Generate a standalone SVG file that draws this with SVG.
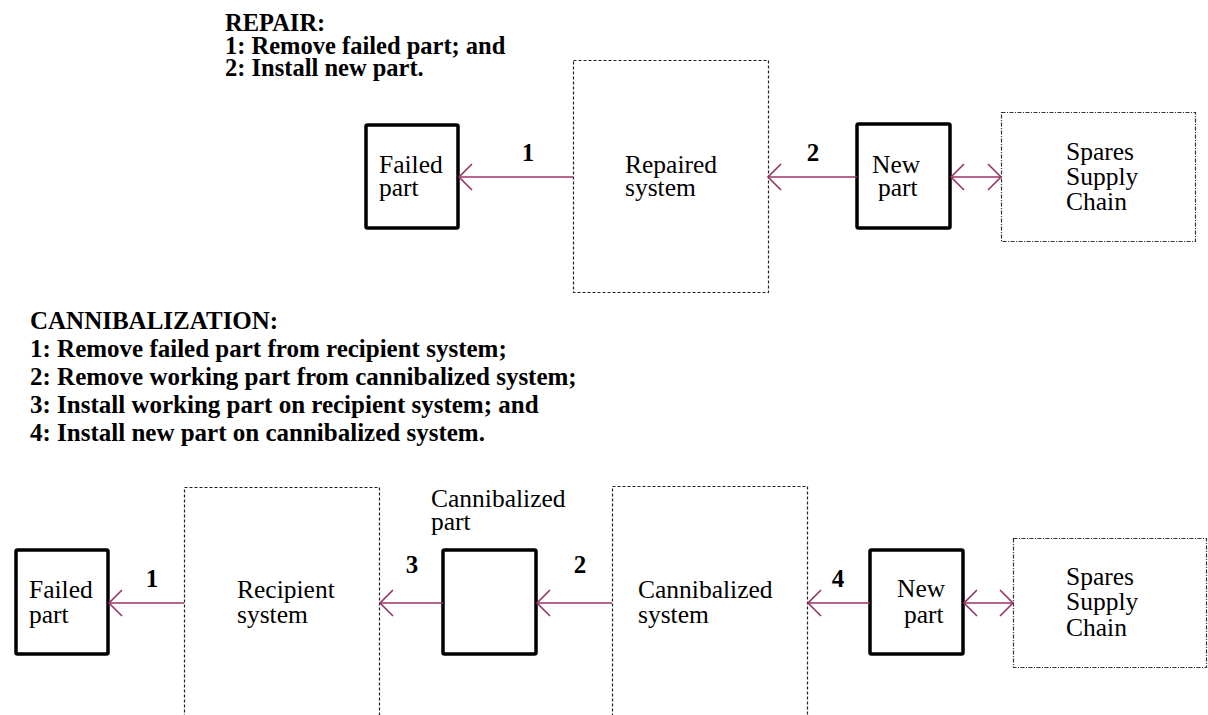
<svg xmlns="http://www.w3.org/2000/svg" width="1208" height="715" viewBox="0 0 1208 715">
<style>
text{font-family:"Liberation Serif","Times New Roman",serif;fill:#000}
.h{font-weight:bold;font-size:24.5px}
.hc{font-weight:bold;font-size:25px}
.t{font-size:25.5px}
.n{font-weight:bold;font-size:25px;text-anchor:middle}
.solid{fill:#fff;stroke:#000;stroke-width:3.5}
.dash{fill:#fff;stroke:#222;stroke-width:1.2;stroke-dasharray:3 2}
.dd{fill:#fff;stroke:#333;stroke-width:1.2;stroke-dasharray:4 1.5 1 1.5}
.c{stroke:#993366;stroke-width:1.6;fill:none}
</style>
<defs>
<marker id="ah" viewBox="-14 -14 16 28" markerWidth="16" markerHeight="28" refX="0" refY="0" orient="auto" markerUnits="userSpaceOnUse">
<path d="M-13,-13 L0,0 L-13,13" fill="none" stroke="#993366" stroke-width="1.6"/>
</marker>
<marker id="as" viewBox="-2 -14 16 28" markerWidth="16" markerHeight="28" refX="0" refY="0" orient="auto" markerUnits="userSpaceOnUse">
<path d="M13,-13 L0,0 L13,13" fill="none" stroke="#993366" stroke-width="1.6"/>
</marker>
</defs>

<g id="repair-heading">
<text class="h" x="225" y="31">REPAIR:<tspan x="225" y="53.5">1: Remove failed part; and</tspan><tspan x="225" y="76">2: Install new part.</tspan></text>
</g>

<g id="r-failed">
<rect class="solid" x="366" y="125" width="92" height="103" rx="1.5"/>
<text class="t" x="379" y="173">Failed<tspan x="379" y="196">part</tspan></text>
</g>
<g id="r-system">
<rect class="dash" x="573.5" y="60.5" width="195" height="232"/>
<text class="t" x="625" y="173">Repaired<tspan x="625" y="196">system</tspan></text>
</g>
<g id="r-new">
<rect class="solid" x="857" y="124" width="93" height="104" rx="1.5"/>
<text class="t" x="872" y="173">New<tspan x="878" y="196">part</tspan></text>
</g>
<g id="r-spares">
<rect class="dd" x="1001.5" y="112.5" width="194" height="129"/>
<text class="t" x="1066" y="160">Spares<tspan x="1066" y="185">Supply</tspan><tspan x="1066" y="210">Chain</tspan></text>
</g>

<g id="cann-heading">
<text class="hc" x="30" y="329">CANNIBALIZATION:<tspan x="30" y="357">1: Remove failed part from recipient system;</tspan><tspan x="30" y="385">2: Remove working part from cannibalized system;</tspan><tspan x="30" y="413">3: Install working part on recipient system; and</tspan><tspan x="30" y="441">4: Install new part on cannibalized system.</tspan></text>
</g>

<g id="c-failed">
<rect class="solid" x="16" y="550" width="92" height="104" rx="1.5"/>
<text class="t" x="29" y="598">Failed<tspan x="29" y="623">part</tspan></text>
</g>
<g id="c-recipient">
<rect class="dash" x="184.5" y="487.5" width="195" height="260"/>
<text class="t" x="237" y="598">Recipient<tspan x="237" y="623">system</tspan></text>
</g>
<g id="c-part">
<rect class="solid" x="443" y="550" width="93" height="104" rx="1.5"/>
<text class="t" x="431" y="507">Cannibalized<tspan x="431" y="530">part</tspan></text>
</g>
<g id="c-system">
<rect class="dash" x="612.5" y="486.5" width="195" height="260"/>
<text class="t" x="638" y="598">Cannibalized<tspan x="638" y="623">system</tspan></text>
</g>
<g id="c-new">
<rect class="solid" x="870" y="550" width="93" height="104" rx="1.5"/>
<text class="t" x="897" y="597">New<tspan x="904" y="623">part</tspan></text>
</g>
<g id="c-spares">
<rect class="dd" x="1013.5" y="538.5" width="193" height="129"/>
<text class="t" x="1066" y="585">Spares<tspan x="1066" y="610">Supply</tspan><tspan x="1066" y="636">Chain</tspan></text>
</g>

<g id="connectors">
<line class="c" x1="573" y1="177" x2="459" y2="177" marker-end="url(#ah)"/>
<line class="c" x1="857" y1="177" x2="768" y2="177" marker-end="url(#ah)"/>
<line class="c" x1="951" y1="177" x2="1001" y2="177" marker-start="url(#as)" marker-end="url(#ah)"/>
<line class="c" x1="184" y1="603" x2="109" y2="603" marker-end="url(#ah)"/>
<line class="c" x1="443" y1="603" x2="380" y2="603" marker-end="url(#ah)"/>
<line class="c" x1="612" y1="603" x2="537" y2="603" marker-end="url(#ah)"/>
<line class="c" x1="870" y1="603" x2="808" y2="603" marker-end="url(#ah)"/>
<line class="c" x1="964" y1="603" x2="1013" y2="603" marker-start="url(#as)" marker-end="url(#ah)"/>
<text class="n" x="528" y="161">1</text>
<text class="n" x="813" y="161">2</text>
<text class="n" x="152" y="587">1</text>
<text class="n" x="412" y="573">3</text>
<text class="n" x="580" y="573">2</text>
<text class="n" x="838" y="587">4</text>
</g>
</svg>
